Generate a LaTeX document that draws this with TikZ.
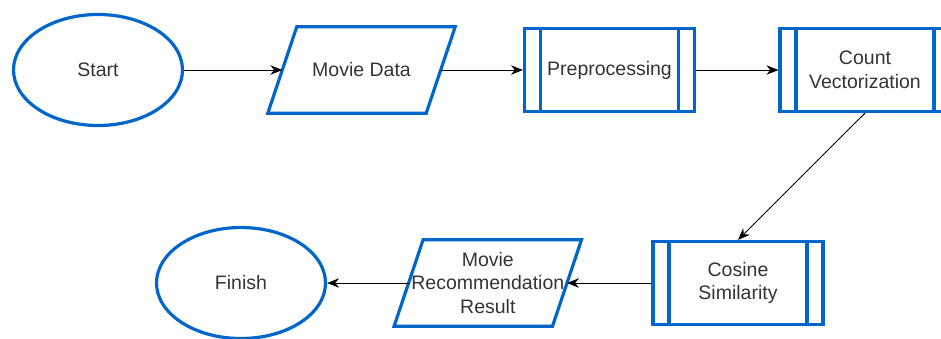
\documentclass[tikz,border=0pt]{standalone}
\usepackage{fontspec}
\setmainfont{Liberation Sans}
\usetikzlibrary{arrows.meta,shapes.geometric}

\definecolor{flowblue}{RGB}{0,102,204}
\definecolor{flowtext}{RGB}{51,51,51}

\begin{document}
\begin{tikzpicture}[x=1pt,y=-1pt]
    % --- Dimensions ---
    \def\BoxW{170}     % Width of a process box
    \def\BoxH{83}      % Height of process / data boxes
    \def\DataW{155}    % Mid-height width of a data box
    \def\Slant{14.5}   % Half the horizontal lean of a data box
    \def\BarGap{16}    % Distance of the inner bars from the sides
    \def\TopY{70}      % Y-position of the first row
    \def\BotY{283}     % Y-position of the second row

    % --- Styles ---
    \tikzset{
        shape line/.style={
            draw=flowblue,
            line width=3.2pt,
            text=flowtext,
            font=\fontsize{19.5}{23.5}\selectfont,
            align=center
        },
        terminal/.style={
            shape line, ellipse,
            minimum width=169, minimum height=111
        },
        % parallelogram drawn round a plain box
        data io/.style={
            shape line, draw=none, rectangle,
            inner sep=0pt, outer sep=1.7pt,
            minimum width=\DataW, minimum height=\BoxH,
            append after command={\pgfextra{
                \draw[flowblue, line width=3.2pt, line join=miter]
                    ([xshift=-\Slant]\tikzlastnode.south west) --
                    ([xshift=-\Slant]\tikzlastnode.south east) --
                    ([xshift=\Slant]\tikzlastnode.north east) --
                    ([xshift=\Slant]\tikzlastnode.north west) -- cycle;
            }}
        },
        process/.style={
            shape line, rectangle,
            minimum width=\BoxW, minimum height=\BoxH,
            path picture={
                \draw[flowblue, line width=3.2pt]
                    ([xshift=\BarGap]path picture bounding box.north west) --
                    ([xshift=\BarGap]path picture bounding box.south west)
                    ([xshift=-\BarGap]path picture bounding box.north east) --
                    ([xshift=-\BarGap]path picture bounding box.south east);
            }
        },
        flow/.style={
            -{Stealth[length=12pt, width=9.5pt]},
            black,
            line width=0.9pt
        }
    }

    \useasboundingbox (0,0) rectangle (941,338);

    % =========================================================
    % 1. FIRST ROW
    % =========================================================
    \node[terminal] (start)     at (98,\TopY)    {Start};
    \node[data io]  (moviedata) at (361.5,\TopY) {Movie Data};
    \node[process]  (preproc)   at (609.5,\TopY) {Preprocessing};
    \node[process]  (countvec)  at (865,\TopY)   {Count\\Vectorization};

    % =========================================================
    % 2. SECOND ROW (runs right to left)
    % =========================================================
    \node[process]  (cosine)    at (738,\BotY)   {Cosine\\Similarity};
    \node[data io]  (result)    at (487.8,\BotY) {Movie\\Recommendation\\Result};
    \node[terminal] (finish)    at (241,\BotY)   {Finish};

    % =========================================================
    % 3. CONNECTORS
    % =========================================================
    \draw[flow] (start) -- (moviedata);
    \draw[flow] (moviedata) -- (preproc);
    \draw[flow] (preproc) -- (countvec);
    \draw[flow] (countvec.south) -- (cosine.north);
    \draw[flow] (cosine) -- (result);
    \draw[flow] (result) -- (finish);

\end{tikzpicture}
\end{document}
